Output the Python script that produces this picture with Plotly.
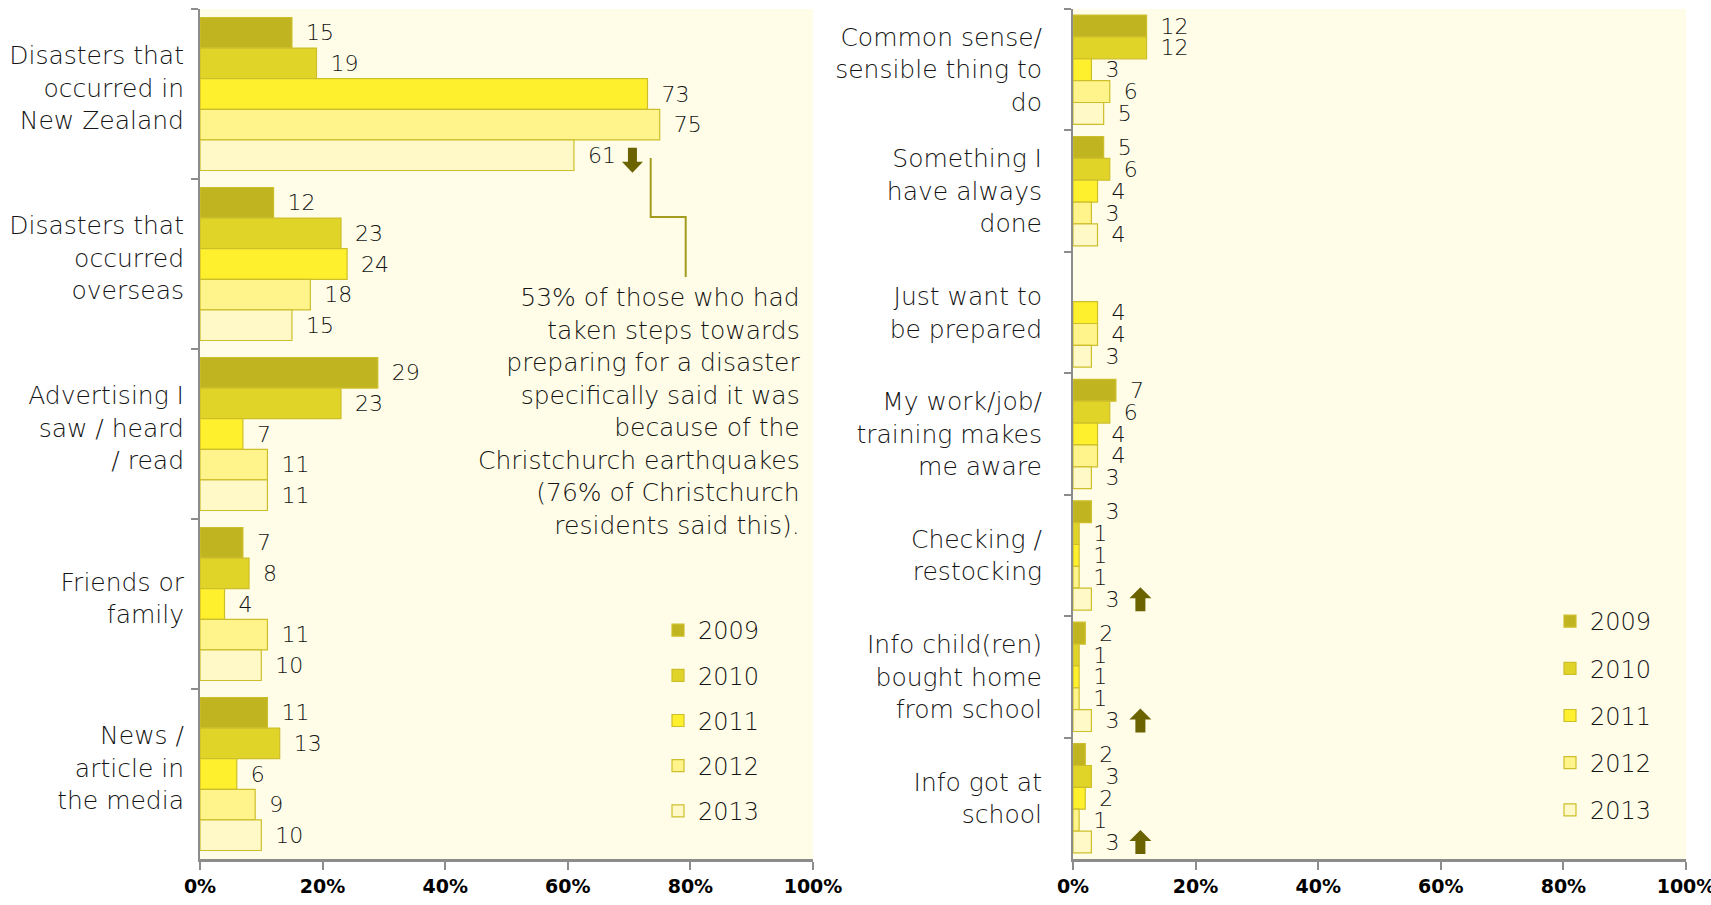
import plotly.graph_objects as go

# ---- data -----------------------------------------------------------------
years = ["2009", "2010", "2011", "2012", "2013"]
colors = ["#C0B421", "#E0D428", "#FFF02E", "#FFF48C", "#FFF9C8"]

left_cats = [
    "Disasters that<br>occurred in<br>New Zealand",
    "Disasters that<br>occurred<br>overseas",
    "Advertising I<br>saw / heard<br>/ read",
    "Friends or<br>family",
    "News /<br>article in<br>the media",
]
left_2009 = [15, 12, 29, 7, 11]
left_2010 = [19, 23, 23, 8, 13]
left_2011 = [73, 24, 7, 4, 6]
left_2012 = [75, 18, 11, 11, 9]
left_2013 = [61, 15, 11, 10, 10]

right_cats = [
    "Common sense/<br>sensible thing to<br>do",
    "Something I<br>have always<br>done",
    "Just want to<br>be prepared",
    "My work/job/<br>training makes<br>me aware",
    "Checking /<br>restocking",
    "Info child(ren)<br>bought home<br>from school",
    "Info got at<br>school",
]
right_2009 = [12, 5, None, 7, 3, 2, 2]
right_2010 = [12, 6, None, 6, 1, 1, 3]
right_2011 = [3, 4, 4, 4, 1, 1, 2]
right_2012 = [6, 3, 4, 4, 1, 1, 1]
right_2013 = [5, 4, 3, 3, 3, 3, 3]

left_series = [left_2009, left_2010, left_2011, left_2012, left_2013]
right_series = [right_2009, right_2010, right_2011, right_2012, right_2013]

pct_ticks = [0, 20, 40, 60, 80, 100]
pct_labels = ["0%", "20%", "40%", "60%", "80%", "100%"]

callout = ("53% of those who had<br>taken steps towards<br>preparing for a disaster<br>"
           "specifically said it was<br>because of the<br>Christchurch earthquakes<br>"
           "(76% of Christchurch<br>residents said this).")

# significant changes in 2013: (panel, category index, direction)
changes = [("left", 0, "down"), ("right", 4, "up"), ("right", 5, "up"), ("right", 6, "up")]

# ---- layout geometry ------------------------------------------------------
FIG_W, FIG_H = 1711, 905
ML, MR, MT, MB = 200, 25, 9, 46
PW, PH = FIG_W - ML - MR, FIG_H - MT - MB


def xp(px):
    return (px - ML) / PW


def yp(py):
    return (FIG_H - MB - py) / PH


FONT = "DejaVu Sans"
TXT = "#151515"
GRAY = "#8C8C8C"
CREAM = "#FFFDE7"
EDGE = "#CDBF2B"
LABEL_FONT = dict(family=FONT, size=25, color=TXT, weight=300)

fig = go.Figure()


def labels(vals):
    return ["" if v is None else "\u2002" + str(v) for v in vals]


for i, yr in enumerate(years):
    fig.add_trace(go.Bar(
        y=left_cats, x=left_series[i], orientation="h", name=yr,
        marker=dict(color=colors[i], line=dict(color=EDGE, width=1.2)),
        text=labels(left_series[i]), textposition="outside", cliponaxis=False,
        textfont=dict(family=FONT, size=22, color=TXT, weight=300), constraintext="none",
        xaxis="x", yaxis="y", legend="legend", legendgroup="L" + yr,
        hoverinfo="x+y",
    ))
for i, yr in enumerate(years):
    fig.add_trace(go.Bar(
        y=right_cats, x=right_series[i], orientation="h", name=yr,
        marker=dict(color=colors[i], line=dict(color=EDGE, width=1.2)),
        text=labels(right_series[i]), textposition="outside", cliponaxis=False,
        textfont=dict(family=FONT, size=22, color=TXT, weight=300), constraintext="none",
        xaxis="x2", yaxis="y2", legend="legend2", legendgroup="R" + yr,
        hoverinfo="x+y",
    ))

xaxis_common = dict(
    range=[0, 100], tickmode="array", tickvals=pct_ticks, ticktext=pct_labels,
    showgrid=False, zeroline=False, showline=True, linecolor=GRAY, linewidth=3,
    ticks="outside", ticklen=8, tickwidth=2, tickcolor=GRAY,
    tickfont=dict(family=FONT, size=19, color="#000", weight="bold"),
    ticklabeloverflow="allow", fixedrange=True,
)
yaxis_common = dict(
    type="category", showgrid=False, zeroline=False, showline=True,
    linecolor=GRAY, linewidth=2, ticks="outside", tickson="boundaries",
    ticklen=7, tickwidth=2, tickcolor=GRAY,
    tickfont=LABEL_FONT, automargin=False,
    fixedrange=True,
)

shapes = []
# 2013 slot sits at +0.36 of the category in a 0.9-wide group of five bars
slot_2013 = 0.36
for panel, ci, direction in changes:
    series = left_2013 if panel == "left" else right_2013
    val = series[ci]
    if direction == "down":
        dx, dy = 58.5, -5
        path = (f"M{dx-4.5},{dy+12.5} L{dx+4.5},{dy+12.5} L{dx+4.5},{dy-1.5} "
                f"L{dx+10.5},{dy-1.5} L{dx},{dy-12.5} L{dx-10.5},{dy-1.5} "
                f"L{dx-4.5},{dy-1.5} Z")
    else:
        dx, dy = 49, 0
        path = (f"M{dx-5},{dy-12} L{dx+5},{dy-12} L{dx+5},{dy+1} "
                f"L{dx+11},{dy+1} L{dx},{dy+12} L{dx-11},{dy+1} "
                f"L{dx-5},{dy+1} Z")
    shapes.append(dict(
        type="path", path=path,
        xref="x" if panel == "left" else "x2",
        yref="y" if panel == "left" else "y2",
        xsizemode="pixel", ysizemode="pixel",
        xanchor=val, yanchor=ci + slot_2013,
        fillcolor="#6B6200", line=dict(width=0),
    ))

# elbow leader from the 2013 bar to the callout text
shapes.append(dict(
    type="path", xref="paper", yref="paper",
    path=(f"M{xp(650.7)},{yp(158)} L{xp(650.7)},{yp(217)} "
          f"L{xp(685.7)},{yp(217)} L{xp(685.7)},{yp(277)}"),
    line=dict(color="#A39B1E", width=2),
))

legend_common = dict(
    font=dict(family=FONT, size=24, color=TXT, weight=300), bgcolor="rgba(0,0,0,0)",
    borderwidth=0, tracegroupgap=11, xanchor="left", yanchor="top",
    itemclick=False, itemdoubleclick=False,
)

fig.update_layout(
    width=FIG_W, height=FIG_H,
    margin=dict(l=ML, r=MR, t=MT, b=MB, autoexpand=False),
    paper_bgcolor="white", plot_bgcolor=CREAM,
    barmode="group", bargap=0.1, bargroupgap=0,
    xaxis=dict(domain=[0, xp(813)], anchor="y", **xaxis_common),
    yaxis=dict(domain=[0, 1], anchor="x", range=[4.5, -0.5],
               ticklabelstandoff=9, ticklabelshift=6, **yaxis_common),
    xaxis2=dict(domain=[xp(1073), 1], anchor="y2", **xaxis_common),
    yaxis2=dict(domain=[0, 1], anchor="x2", range=[6.5, -0.5],
                ticklabelstandoff=24, **yaxis_common),
    legend=dict(x=xp(658), y=yp(608), **legend_common),
    legend2=dict(x=xp(1550), y=yp(599), **{**legend_common, "tracegroupgap": 13}),
    shapes=shapes,
    annotations=[dict(
        text=callout, xref="paper", yref="paper", x=xp(802), y=yp(281),
        xanchor="right", yanchor="top", align="right", showarrow=False,
        font=LABEL_FONT,
    )],
    showlegend=True,
)

fig.write_html("out.html")
